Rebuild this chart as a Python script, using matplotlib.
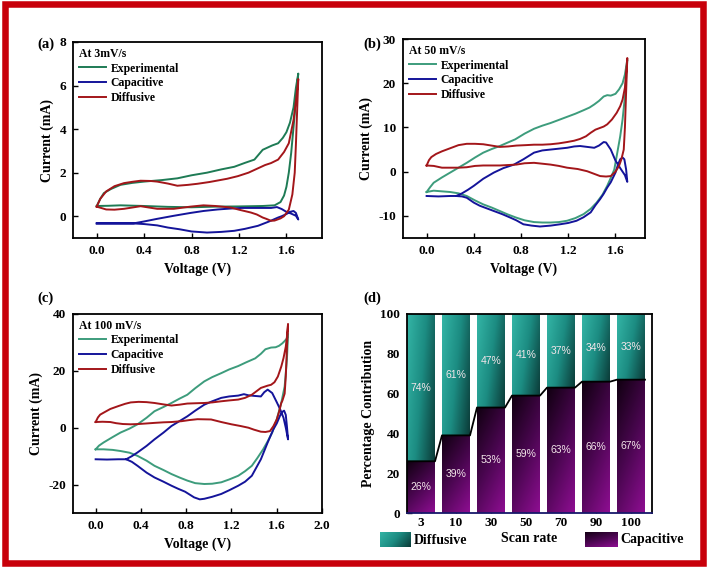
import numpy as np
import matplotlib
matplotlib.use("Agg")
import matplotlib.pyplot as plt
from matplotlib.colors import LinearSegmentedColormap
from matplotlib.patches import Rectangle

plt.rcParams['font.family'] = ['Liberation Serif', 'DejaVu Serif']
plt.rcParams['font.weight'] = 'bold'
plt.rcParams['axes.labelweight'] = 'bold'
plt.rcParams['axes.unicode_minus'] = False
plt.rcParams['font.size'] = 9

# ---- (a) 3 mV/s ----
exp_a_fw_v = [0, 0.03, 0.06, 0.12, 0.2, 0.3, 0.4, 0.55, 0.68, 0.8, 0.93, 1.05, 1.16, 1.25, 1.33, 1.4, 1.48, 1.53, 1.57, 1.6, 1.63, 1.66, 1.68, 1.7]
exp_a_fw_i = [0.47, 0.8, 1.06, 1.25, 1.44, 1.53, 1.59, 1.66, 1.74, 1.88, 2.0, 2.15, 2.27, 2.45, 2.6, 3.05, 3.25, 3.35, 3.6, 3.86, 4.3, 5.0, 5.9, 6.55]
exp_a_rv_v = [1.7, 1.68, 1.66, 1.64, 1.62, 1.6, 1.58, 1.55, 1.5, 1.4, 1.2, 1.0, 0.8, 0.6, 0.4, 0.2, 0.1, 0]
exp_a_rv_i = [6.55, 5.3, 4.1, 2.9, 2.0, 1.35, 0.95, 0.65, 0.5, 0.47, 0.45, 0.44, 0.41, 0.43, 0.47, 0.5, 0.48, 0.47]

cap_a_fw_v = [0, 0.1, 0.2, 0.31, 0.4, 0.51, 0.65, 0.79, 0.9, 1.02, 1.12, 1.22, 1.35, 1.47, 1.52, 1.56, 1.6, 1.64, 1.68, 1.7]
cap_a_fw_i = [-0.33, -0.33, -0.33, -0.33, -0.24, -0.12, 0.02, 0.15, 0.24, 0.31, 0.35, 0.38, 0.38, 0.38, 0.42, 0.33, 0.2, 0.12, 0.02, -0.15]
cap_a_rv_v = [1.7, 1.68, 1.66, 1.63, 1.6, 1.56, 1.53, 1.45, 1.36, 1.25, 1.16, 1.05, 0.93, 0.8, 0.7, 0.6, 0.51, 0.4, 0.31, 0]
cap_a_rv_i = [-0.15, 0.15, 0.24, 0.2, 0.1, 0.0, -0.06, -0.25, -0.44, -0.58, -0.67, -0.72, -0.75, -0.7, -0.6, -0.52, -0.42, -0.36, -0.33, -0.33]

dif_a_fw_v = [0, 0.03, 0.08, 0.15, 0.23, 0.3, 0.37, 0.45, 0.51, 0.6, 0.68, 0.77, 0.85, 0.95, 1.02, 1.1, 1.19, 1.28, 1.36, 1.42, 1.47, 1.53, 1.58, 1.62, 1.66, 1.68, 1.7]
dif_a_fw_i = [0.44, 0.8, 1.14, 1.38, 1.52, 1.58, 1.63, 1.62, 1.59, 1.5, 1.4, 1.44, 1.49, 1.57, 1.64, 1.72, 1.84, 2.0, 2.2, 2.35, 2.44, 2.6, 2.95, 3.35, 4.42, 5.3, 6.3]
dif_a_rv_v = [1.7, 1.69, 1.68, 1.67, 1.65, 1.62, 1.58, 1.55, 1.5, 1.47, 1.43, 1.4, 1.35, 1.3, 1.2, 1.13, 1.0, 0.9, 0.79, 0.65, 0.51, 0.44, 0.37, 0.3, 0.23, 0.15, 0.08, 0]
dif_a_rv_i = [6.3, 4.8, 3.3, 2.0, 1.0, 0.3, 0.0, -0.1, -0.2, -0.21, -0.12, -0.06, 0.08, 0.17, 0.3, 0.4, 0.47, 0.5, 0.44, 0.34, 0.34, 0.4, 0.46, 0.4, 0.34, 0.3, 0.31, 0.44]

# ---- (b) 50 mV/s ----
exp_b_fw_v = [0, 0.03, 0.06, 0.13, 0.2, 0.27, 0.34, 0.41, 0.48, 0.55, 0.62, 0.68, 0.75, 0.83, 0.91, 0.98, 1.05, 1.12, 1.19, 1.26, 1.33, 1.38, 1.42, 1.46, 1.5, 1.53, 1.56, 1.6, 1.63, 1.66, 1.68, 1.7]
exp_b_fw_i = [-4.6, -3.5, -2.5, -1.3, -0.2, 0.9, 2.0, 3.2, 4.3, 5.1, 5.8, 6.5, 7.3, 8.6, 9.7, 10.4, 11.0, 11.7, 12.4, 13.1, 13.9, 14.5, 15.2, 16.0, 17.0, 17.3, 17.2, 17.6, 18.6, 20.0, 22.0, 25.3]
exp_b_rv_v = [1.7, 1.68, 1.66, 1.64, 1.62, 1.59, 1.56, 1.53, 1.49, 1.44, 1.39, 1.33, 1.26, 1.19, 1.12, 1.05, 0.98, 0.91, 0.83, 0.76, 0.69, 0.62, 0.55, 0.48, 0.41, 0.34, 0.27, 0.2, 0.13, 0.06, 0]
exp_b_rv_i = [25.3, 17.0, 11.8, 8.0, 5.0, 0.5, -1.4, -3.2, -5.2, -7.0, -8.4, -9.6, -10.5, -11.1, -11.4, -11.5, -11.5, -11.4, -11.0, -10.4, -9.7, -8.9, -8.1, -7.4, -6.5, -5.5, -4.9, -4.6, -4.45, -4.3, -4.6]

cap_b_fw_v = [0, 0.1, 0.2, 0.25, 0.3, 0.35, 0.4, 0.48, 0.57, 0.65, 0.74, 0.82, 0.91, 0.98, 1.05, 1.12, 1.19, 1.25, 1.3, 1.36, 1.42, 1.46, 1.5, 1.52, 1.56, 1.6, 1.64, 1.68, 1.7]
cap_b_fw_i = [-5.5, -5.6, -5.5, -5.5, -4.9, -4.1, -3.2, -1.6, -0.2, 0.8, 1.6, 2.8, 4.3, 4.8, 5.0, 5.2, 5.4, 5.7, 5.8, 5.6, 5.4, 5.9, 6.7, 6.6, 5.0, 2.5, 0.8, -0.8, -2.3]
cap_b_rv_v = [1.7, 1.69, 1.675, 1.66, 1.64, 1.62, 1.6, 1.56, 1.53, 1.5, 1.47, 1.43, 1.39, 1.33, 1.27, 1.2, 1.13, 1.05, 0.96, 0.89, 0.82, 0.76, 0.71, 0.64, 0.57, 0.5, 0.45, 0.4, 0.34, 0.3, 0.25]
cap_b_rv_i = [-2.3, 0.5, 2.8, 3.2, 2.8, 1.5, -0.2, -2.4, -3.6, -5.0, -6.2, -7.6, -9.2, -10.3, -11.1, -11.6, -11.9, -12.2, -12.4, -12.2, -11.9, -11.0, -10.4, -9.6, -8.9, -8.2, -7.7, -7.0, -5.9, -5.6, -5.5]

dif_b_fw_v = [0, 0.02, 0.04, 0.08, 0.13, 0.2, 0.27, 0.34, 0.41, 0.48, 0.55, 0.62, 0.69, 0.76, 0.84, 0.91, 0.98, 1.05, 1.12, 1.19, 1.25, 1.3, 1.35, 1.39, 1.43, 1.47, 1.5, 1.53, 1.57, 1.61, 1.64, 1.66, 1.68, 1.69, 1.7]
dif_b_fw_i = [1.4, 2.6, 3.3, 4.0, 4.6, 5.3, 6.0, 6.3, 6.3, 6.2, 5.9, 5.6, 5.7, 5.9, 6.0, 6.1, 6.1, 6.2, 6.4, 6.7, 7.0, 7.4, 8.0, 8.8, 9.5, 9.9, 10.2, 10.7, 11.8, 13.3, 14.8, 16.3, 19.0, 22.3, 25.7]
dif_b_rv_v = [1.7, 1.69, 1.68, 1.67, 1.65, 1.63, 1.6, 1.56, 1.52, 1.47, 1.42, 1.36, 1.28, 1.19, 1.12, 1.05, 0.98, 0.91, 0.83, 0.76, 0.69, 0.62, 0.55, 0.48, 0.41, 0.34, 0.27, 0.2, 0.13, 0.06, 0]
dif_b_rv_i = [25.7, 18.0, 10.0, 5.0, 2.8, 1.3, 0.0, -1.0, -1.1, -1.0, -0.5, 0.1, 0.6, 0.9, 1.3, 1.6, 1.8, 2.0, 1.9, 1.6, 1.5, 1.4, 1.4, 1.4, 1.3, 1.0, 0.9, 0.9, 0.9, 1.3, 1.4]

# ---- (c) 100 mV/s ----
exp_c_fw_v = [0, 0.03, 0.07, 0.15, 0.22, 0.3, 0.37, 0.45, 0.52, 0.6, 0.67, 0.74, 0.81, 0.88, 0.96, 1.03, 1.11, 1.18, 1.26, 1.33, 1.41, 1.46, 1.5, 1.55, 1.59, 1.62, 1.65, 1.67, 1.69, 1.7]
exp_c_fw_i = [-7.6, -6.3, -5.2, -3.3, -1.7, -0.3, 1.2, 3.5, 5.8, 7.3, 8.7, 10.2, 11.6, 13.9, 16.3, 17.8, 19.2, 20.5, 21.7, 23.0, 24.4, 26.0, 27.6, 28.2, 28.3, 28.8, 29.7, 30.5, 31.4, 33.0]
exp_c_rv_v = [1.7, 1.69, 1.67, 1.64, 1.6, 1.56, 1.52, 1.48, 1.43, 1.38, 1.32, 1.26, 1.18, 1.11, 1.03, 0.96, 0.88, 0.81, 0.74, 0.67, 0.6, 0.52, 0.45, 0.37, 0.3, 0.22, 0.15, 0.07, 0]
exp_c_rv_i = [33.0, 24.0, 14.5, 8.7, 2.9, -1.7, -4.8, -7.6, -10.6, -13.4, -15.3, -16.9, -18.2, -19.2, -19.7, -19.8, -19.5, -18.6, -17.5, -16.3, -14.9, -13.4, -11.6, -9.9, -8.8, -8.2, -7.8, -7.6, -7.6]

cap_c_fw_v = [0, 0.1, 0.2, 0.27, 0.32, 0.37, 0.45, 0.52, 0.6, 0.67, 0.74, 0.81, 0.88, 0.96, 1.03, 1.11, 1.18, 1.26, 1.31, 1.35, 1.4, 1.46, 1.49, 1.52, 1.56, 1.6, 1.63, 1.66, 1.68, 1.7]
cap_c_fw_i = [-11.1, -11.2, -11.1, -11.1, -10.0, -8.7, -6.4, -4.1, -1.7, 0.6, 2.3, 4.0, 6.0, 8.1, 9.3, 10.5, 11.0, 11.3, 11.8, 11.4, 11.2, 11.0, 12.5, 13.4, 12.2, 9.0, 6.5, 3.5, 0.0, -4.1]
cap_c_rv_v = [1.7, 1.69, 1.68, 1.665, 1.65, 1.63, 1.6, 1.57, 1.52, 1.46, 1.42, 1.38, 1.32, 1.26, 1.18, 1.11, 1.03, 0.96, 0.92, 0.87, 0.79, 0.73, 0.67, 0.6, 0.52, 0.45, 0.37, 0.32, 0.27]
cap_c_rv_i = [-4.1, 0.5, 4.5, 6.0, 5.6, 4.3, 1.5, -0.6, -5.2, -11.1, -14.0, -16.9, -19.0, -20.4, -22.0, -23.3, -24.3, -25.0, -25.2, -24.5, -22.5, -21.5, -20.4, -19.0, -17.5, -15.8, -13.4, -12.0, -11.1]

dif_c_fw_v = [0, 0.02, 0.04, 0.08, 0.13, 0.2, 0.26, 0.31, 0.38, 0.45, 0.52, 0.6, 0.67, 0.74, 0.81, 0.88, 0.96, 1.03, 1.11, 1.18, 1.26, 1.32, 1.38, 1.42, 1.46, 1.52, 1.55, 1.58, 1.61, 1.64, 1.66, 1.68, 1.69, 1.7]
dif_c_fw_i = [2.0, 3.6, 4.6, 5.5, 6.6, 7.6, 8.4, 8.9, 9.1, 9.0, 8.7, 8.2, 7.8, 8.1, 8.5, 8.6, 8.7, 8.9, 9.3, 9.6, 9.9, 10.5, 11.6, 12.8, 14.0, 14.8, 15.1, 16.0, 18.0, 21.5, 24.5, 28.5, 32.0, 36.5]
dif_c_rv_v = [1.7, 1.69, 1.68, 1.67, 1.65, 1.64, 1.62, 1.6, 1.57, 1.54, 1.5, 1.46, 1.4, 1.35, 1.28, 1.2, 1.11, 1.02, 0.9, 0.83, 0.76, 0.67, 0.6, 0.52, 0.45, 0.38, 0.31, 0.24, 0.18, 0.13, 0.06, 0]
dif_c_rv_i = [36.5, 28.0, 18.0, 12.0, 9.5, 8.7, 5.5, 2.9, 0.5, -1.2, -1.5, -1.4, -0.7, 0.0, 0.6, 1.2, 2.0, 2.9, 3.0, 2.7, 2.3, 2.0, 1.9, 1.7, 1.5, 1.3, 1.2, 1.3, 1.6, 2.0, 2.1, 2.0]

# ---- (d) contributions ----
scan_rates = ['3', '10', '30', '50', '70', '90', '100']
capacitive_pct = [26, 39, 53, 59, 63, 66, 67]
diffusive_pct = [74, 61, 47, 41, 37, 34, 33]

W, H = 709, 569
fig = plt.figure(figsize=(W / 100, H / 100), dpi=100)


def px_axes(x0, y0, x1, y1):
    # pixel box (top-left origin) -> figure axes
    return fig.add_axes([x0 / W, 1 - y1 / H, (x1 - x0) / W, (y1 - y0) / H])


def style_axes(ax):
    ax.tick_params(direction='in', length=3.5, width=1.0, labelsize=9.5, pad=5)
    for s in ax.spines.values():
        s.set_linewidth(1.3)


def cv_panel(ax, title, green, curves, xlim, ylim, xticks, yticks):
    exp, cap, dif = curves
    ax.plot(exp[0] + exp[2], exp[1] + exp[3], color=green, lw=1.4, label='Experimental')
    ax.plot(cap[0] + cap[2], cap[1] + cap[3], color='#14149a', lw=1.4, label='Capacitive')
    ax.plot(dif[0] + dif[2], dif[1] + dif[3], color='#a3161a', lw=1.4, label='Diffusive')
    ax.set_xlim(*xlim)
    ax.set_ylim(*ylim)
    ax.set_xticks(xticks)
    ax.set_yticks(yticks)
    ax.set_xticklabels(['%.1f' % t for t in xticks])
    ax.set_xlabel('Voltage (V)', fontsize=10, labelpad=4)
    ax.set_ylabel('Current (mA)', fontsize=10, labelpad=4)
    style_axes(ax)
    ax.legend(title=title, loc='upper left', bbox_to_anchor=(0, 1), frameon=False,
              fontsize=8.5, title_fontproperties={'weight': 'bold', 'size': 8.5},
              handlelength=2.3, handletextpad=0.4, labelspacing=0.22,
              borderaxespad=0.15, borderpad=0.35, alignment='left')


ax_a = px_axes(73, 42, 322, 238)
cv_panel(ax_a, 'At 3mV/s', '#1e7b55',
         [(exp_a_fw_v, exp_a_fw_i, exp_a_rv_v, exp_a_rv_i),
          (cap_a_fw_v, cap_a_fw_i, cap_a_rv_v, cap_a_rv_i),
          (dif_a_fw_v, dif_a_fw_i, dif_a_rv_v, dif_a_rv_i)],
         (-0.2, 1.9), (-1, 8), [0, 0.4, 0.8, 1.2, 1.6], [0, 2, 4, 6, 8])

ax_b = px_axes(403, 39, 645, 238)
cv_panel(ax_b, 'At 50 mV/s', '#3d9c7c',
         [(exp_b_fw_v, exp_b_fw_i, exp_b_rv_v, exp_b_rv_i),
          (cap_b_fw_v, cap_b_fw_i, cap_b_rv_v, cap_b_rv_i),
          (dif_b_fw_v, dif_b_fw_i, dif_b_rv_v, dif_b_rv_i)],
         (-0.2, 1.85), (-15, 30), [0, 0.4, 0.8, 1.2, 1.6], [-10, 0, 10, 20, 30])

ax_c = px_axes(73, 314, 322, 513)
cv_panel(ax_c, 'At 100 mV/s', '#3d9c7c',
         [(exp_c_fw_v, exp_c_fw_i, exp_c_rv_v, exp_c_rv_i),
          (cap_c_fw_v, cap_c_fw_i, cap_c_rv_v, cap_c_rv_i),
          (dif_c_fw_v, dif_c_fw_i, dif_c_rv_v, dif_c_rv_i)],
         (-0.2, 2.0), (-30, 40), [0, 0.4, 0.8, 1.2, 1.6, 2.0], [-20, 0, 20, 40])

# gradient colour maps for the stacked bars
dif_cmap = LinearSegmentedColormap.from_list('dif', ['#34b5a6', '#1c8c82', '#0b3b38'])
cap_cmap = LinearSegmentedColormap.from_list('cap', ['#100010', '#4a0650', '#8e0e92'])
gx, gy = np.meshgrid(np.linspace(0, 1, 64), np.linspace(0, 1, 64))
dif_grad = 0.7 * gx + 0.3 * (1 - gy)
cap_grad = 0.35 * gx + 0.65 * (1 - gy)

ax_d = px_axes(407, 314, 652, 513)
bw = 0.8
for i, (c, d) in enumerate(zip(capacitive_pct, diffusive_pct)):
    ax_d.imshow(cap_grad, extent=[i - bw / 2, i + bw / 2, 0, c], origin='lower',
                cmap=cap_cmap, vmin=0, vmax=1, aspect='auto', interpolation='bilinear', zorder=2)
    ax_d.imshow(dif_grad, extent=[i - bw / 2, i + bw / 2, c, c + d], origin='lower',
                cmap=dif_cmap, vmin=0, vmax=1, aspect='auto', interpolation='bilinear', zorder=2)
    ax_d.text(i, c / 2, '%d%%' % c, ha='center', va='center', color='#f3e6ea',
              fontsize=7.5, family='Liberation Sans', weight='normal', zorder=4)
    ax_d.text(i, c + d / 2, '%d%%' % d, ha='center', va='center', color='#f3e6ea',
              fontsize=7.5, family='Liberation Sans', weight='normal', zorder=4)

# black step line along capacitive tops
step_x, step_y = [], []
for i, c in enumerate(capacitive_pct):
    step_x += [i - bw / 2, i + bw / 2]
    step_y += [c, c]
ax_d.plot(step_x, step_y, color='black', lw=1.3, zorder=3)

ax_d.set_xlim(-0.4, 6.6)
ax_d.set_ylim(0, 100)
ax_d.set_xticks(range(len(scan_rates)))
ax_d.set_xticklabels(scan_rates)
ax_d.set_yticks([0, 20, 40, 60, 80, 100])
ax_d.set_ylabel('Percentage Contribution', fontsize=10, labelpad=4)
ax_d.set_xlabel('Scan rate', fontsize=10, labelpad=2)
style_axes(ax_d)
ax_d.tick_params(axis='x', pad=3)
ax_d.spines['bottom'].set_color('#18186a')

# legend boxes under panel (d)
for (x0, x1), grad, cmap in [((380, 411), dif_grad, dif_cmap), ((585, 617), cap_grad, cap_cmap)]:
    lax = px_axes(x0, 532, x1, 547)
    lax.imshow(grad, origin='lower', cmap=cmap, vmin=0, vmax=1, aspect='auto')
    lax.set_xticks([])
    lax.set_yticks([])
    for s in lax.spines.values():
        s.set_visible(False)
fig.text(414 / W, 1 - 540 / H, 'Diffusive', fontsize=10, ha='left', va='center')
fig.text(620 / W, 1 - 540 / H, 'Capacitive', fontsize=10, ha='left', va='center')

# panel letters
for lbl, x, y in [('(a)', 37, 44), ('(b)', 363, 44), ('(c)', 37, 298), ('(d)', 363, 298)]:
    fig.text(x / W, 1 - y / H, lbl, fontsize=10.5, ha='left', va='center')

# red frame
fig.add_artist(Rectangle((5 / W, 6 / H), 698 / W, 559.5 / H, transform=fig.transFigure,
                         fill=False, edgecolor='#c8000a', lw=4.7))

fig.savefig('out.png', dpi=100)
